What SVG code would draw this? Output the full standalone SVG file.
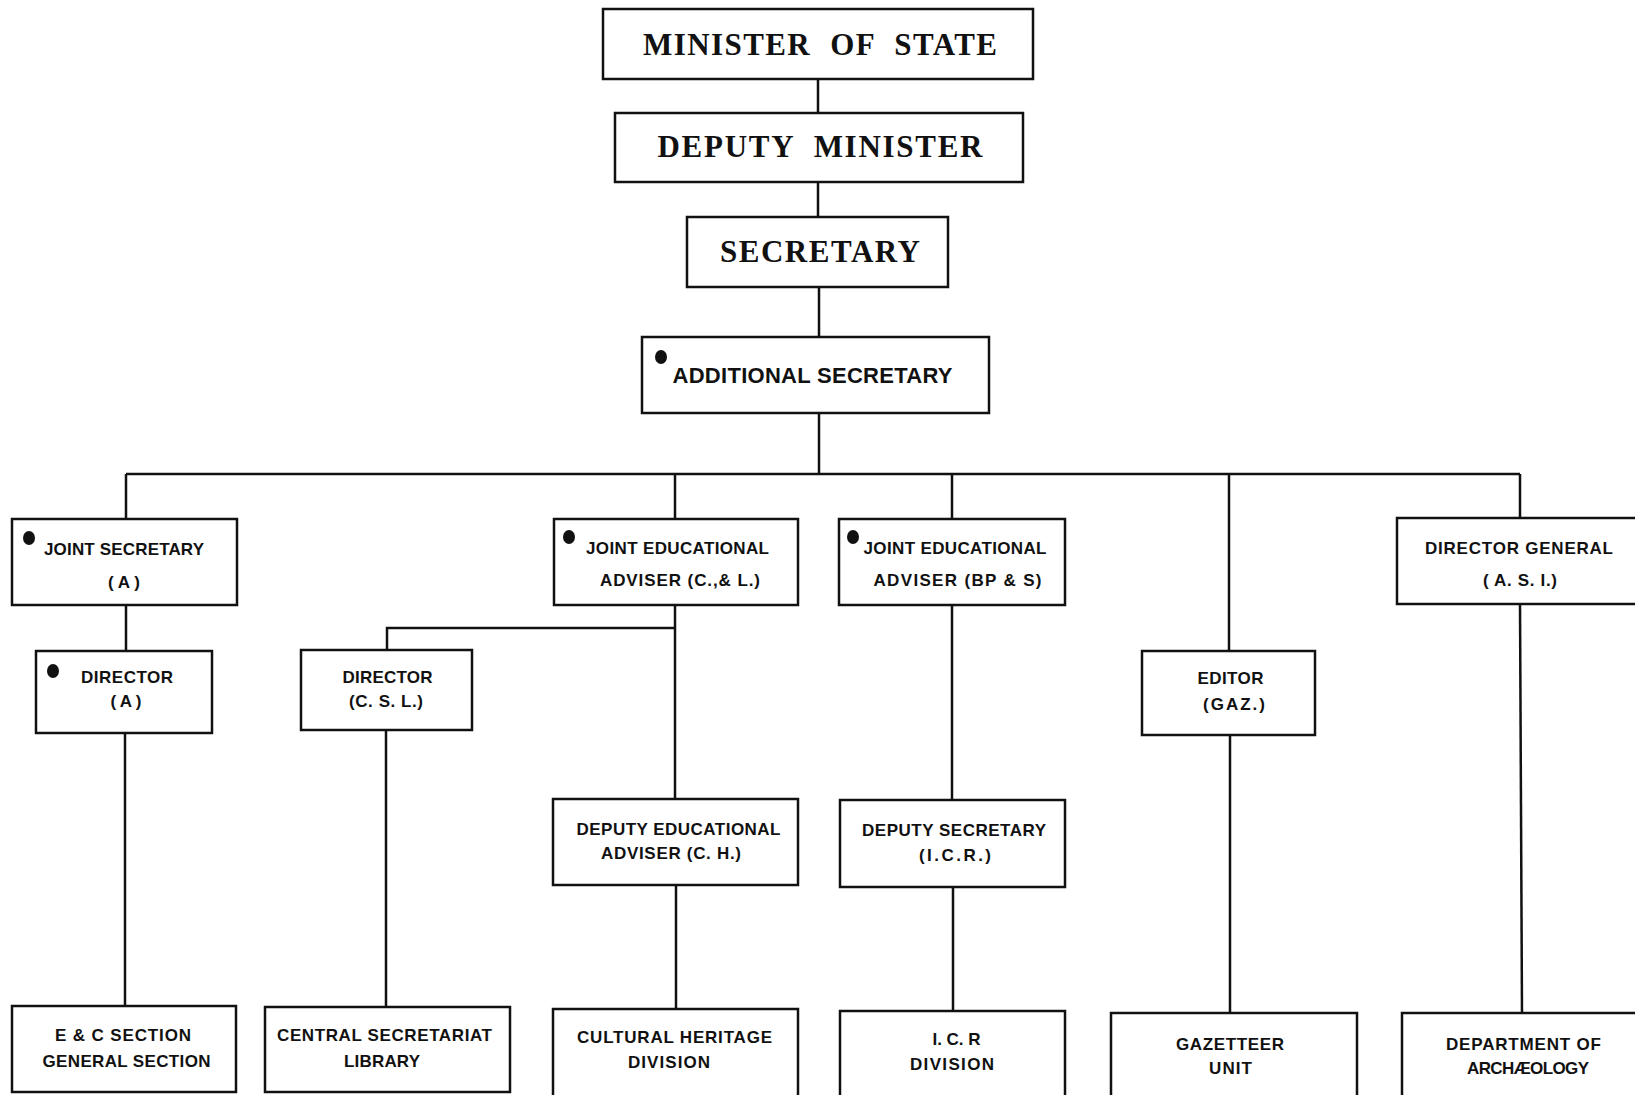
<svg xmlns="http://www.w3.org/2000/svg" width="1635" height="1095" viewBox="0 0 1635 1095">
<style>
.box{fill:#fff;stroke:#111;stroke-width:2.5}
.ln{fill:none;stroke:#111;stroke-width:2.5}
.dot{fill:#111}
.sf{font-family:"Liberation Serif",serif;font-weight:bold;font-size:31px;word-spacing:10px;fill:#111;text-anchor:middle}
.ss{font-family:"Liberation Sans",Arial,sans-serif;font-weight:bold;font-size:17px;fill:#111;text-anchor:middle}
.sl{font-family:"Liberation Sans",Arial,sans-serif;font-weight:bold;font-size:22px;fill:#111;text-anchor:middle}
</style>
<rect width="1635" height="1095" fill="#fff"/>
<g id="connectors">
<path class="ln" d="M818 79V113M818 182V217M819 287V337M819 413V474"/>
<path class="ln" d="M126 474H1520"/>
<path class="ln" d="M126 474V519M675 474V519M952 474V519M1229 474V651M1520 474V518"/>
<path class="ln" d="M126 605V651M125 733V1006"/>
<path class="ln" d="M675 605V799M675 628H387V650M386 730V1007"/>
<path class="ln" d="M676 885V1009"/>
<path class="ln" d="M952 605V800M953 887V1011"/>
<path class="ln" d="M1230 735V1013"/>
<path class="ln" d="M1520 604L1522 1013"/>
</g>
<g id="minister-of-state">
<rect class="box" x="603" y="9" width="430" height="70"/>
<text class="sf" x="820" y="55" textLength="354" lengthAdjust="spacing">MINISTER OF STATE</text>
</g>
<g id="deputy-minister">
<rect class="box" x="615" y="113" width="408" height="69"/>
<text class="sf" x="820" y="157" textLength="325" lengthAdjust="spacing">DEPUTY MINISTER</text>
</g>
<g id="secretary">
<rect class="box" x="687" y="217" width="261" height="70"/>
<text class="sf" x="820" y="262" textLength="200" lengthAdjust="spacing">SECRETARY</text>
</g>
<g id="additional-secretary">
<rect class="box" x="642" y="337" width="347" height="76"/>
<ellipse class="dot" cx="661" cy="357" rx="6" ry="7"/>
<text class="sl" x="812.5" y="383" textLength="280" lengthAdjust="spacing">ADDITIONAL SECRETARY</text>
</g>
<g id="joint-secretary-a">
<rect class="box" x="12" y="519" width="225" height="86"/>
<ellipse class="dot" cx="29" cy="538" rx="6" ry="7"/>
<text class="ss" x="124" y="555" textLength="160" lengthAdjust="spacing">JOINT SECRETARY</text>
<text class="ss" x="124" y="588" textLength="32" lengthAdjust="spacing">(A)</text>
</g>
<g id="director-a">
<rect class="box" x="36" y="651" width="176" height="82"/>
<ellipse class="dot" cx="53" cy="671" rx="6" ry="7"/>
<text class="ss" x="127" y="683" textLength="92" lengthAdjust="spacing">DIRECTOR</text>
<text class="ss" x="126" y="707" textLength="31" lengthAdjust="spacing">(A)</text>
</g>
<g id="director-csl">
<rect class="box" x="301" y="650" width="171" height="80"/>
<text class="ss" x="387.5" y="683" textLength="90" lengthAdjust="spacing">DIRECTOR</text>
<text class="ss" x="386" y="707" textLength="74" lengthAdjust="spacing">(C. S. L.)</text>
</g>
<g id="jea-cl">
<rect class="box" x="554" y="519" width="244" height="86"/>
<ellipse class="dot" cx="569" cy="537" rx="6" ry="7"/>
<text class="ss" x="677.5" y="554" textLength="183" lengthAdjust="spacing">JOINT EDUCATIONAL</text>
<text class="ss" x="680" y="586" textLength="160" lengthAdjust="spacing">ADVISER (C.,&amp; L.)</text>
</g>
<g id="jea-bps">
<rect class="box" x="839" y="519" width="226" height="86"/>
<ellipse class="dot" cx="853" cy="537" rx="6" ry="7"/>
<text class="ss" x="955" y="554" textLength="183" lengthAdjust="spacing">JOINT EDUCATIONAL</text>
<text class="ss" x="957.5" y="586" textLength="168" lengthAdjust="spacing">ADVISER (BP &amp; S)</text>
</g>
<g id="editor-gaz">
<rect class="box" x="1142" y="651" width="173" height="84"/>
<text class="ss" x="1230.5" y="684" textLength="66" lengthAdjust="spacing">EDITOR</text>
<text class="ss" x="1234" y="710" textLength="62" lengthAdjust="spacing">(GAZ.)</text>
</g>
<g id="director-general-asi">
<rect class="box" x="1397" y="518" width="250" height="86"/>
<text class="ss" x="1519" y="554" textLength="188" lengthAdjust="spacing">DIRECTOR GENERAL</text>
<text class="ss" x="1520" y="586" textLength="74" lengthAdjust="spacing">( A. S. I.)</text>
</g>
<g id="dea-ch">
<rect class="box" x="553" y="799" width="245" height="86"/>
<text class="ss" x="678.5" y="835" textLength="204" lengthAdjust="spacing">DEPUTY EDUCATIONAL</text>
<text class="ss" x="671" y="859" textLength="140" lengthAdjust="spacing">ADVISER (C. H.)</text>
</g>
<g id="deputy-secretary-icr">
<rect class="box" x="840" y="800" width="225" height="87"/>
<text class="ss" x="954" y="836" textLength="184" lengthAdjust="spacing">DEPUTY SECRETARY</text>
<text class="ss" x="955" y="861" textLength="72" lengthAdjust="spacing">(I.C.R.)</text>
</g>
<g id="ec-general-section">
<rect class="box" x="12" y="1006" width="224" height="86"/>
<text class="ss" x="123" y="1041" textLength="136" lengthAdjust="spacing">E &amp; C SECTION</text>
<text class="ss" x="126.5" y="1067" textLength="168" lengthAdjust="spacing">GENERAL SECTION</text>
</g>
<g id="central-secretariat-library">
<rect class="box" x="265" y="1007" width="245" height="85"/>
<text class="ss" x="384.5" y="1041" textLength="215" lengthAdjust="spacing">CENTRAL SECRETARIAT</text>
<text class="ss" x="382" y="1067" textLength="76" lengthAdjust="spacing">LIBRARY</text>
</g>
<g id="cultural-heritage-division">
<rect class="box" x="553" y="1009" width="245" height="88"/>
<text class="ss" x="674.5" y="1043" textLength="195" lengthAdjust="spacing">CULTURAL HERITAGE</text>
<text class="ss" x="669" y="1068" textLength="82" lengthAdjust="spacing">DIVISION</text>
</g>
<g id="icr-division">
<rect class="box" x="840" y="1011" width="225" height="90"/>
<text class="ss" x="956.5" y="1045" textLength="48" lengthAdjust="spacing">I. C. R</text>
<text class="ss" x="952" y="1070" textLength="84" lengthAdjust="spacing">DIVISION</text>
</g>
<g id="gazetteer-unit">
<rect class="box" x="1111" y="1013" width="246" height="90"/>
<text class="ss" x="1230" y="1050" textLength="108" lengthAdjust="spacing">GAZETTEER</text>
<text class="ss" x="1230.5" y="1074" textLength="43" lengthAdjust="spacing">UNIT</text>
</g>
<g id="department-of-archaeology">
<rect class="box" x="1402" y="1013" width="250" height="90"/>
<text class="ss" x="1523.5" y="1050" textLength="155" lengthAdjust="spacing">DEPARTMENT OF</text>
<text class="ss" x="1528" y="1074" textLength="122" lengthAdjust="spacing">ARCHÆOLOGY</text>
</g>
</svg>
